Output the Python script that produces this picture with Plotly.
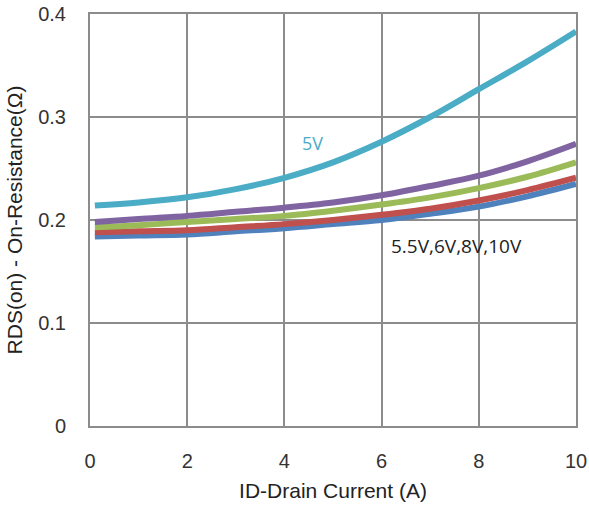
import plotly.graph_objects as go

current = [0.1, 1, 2, 3, 4, 5, 6, 7, 8, 9, 10]
v5 = [0.214, 0.217, 0.222, 0.230, 0.241, 0.256, 0.276, 0.300, 0.327, 0.354, 0.383]
v_purple = [0.198, 0.201, 0.204, 0.208, 0.212, 0.217, 0.224, 0.233, 0.243, 0.257, 0.274]
v_green = [0.193, 0.195, 0.198, 0.201, 0.204, 0.209, 0.215, 0.222, 0.231, 0.242, 0.256]
v_red = [0.188, 0.189, 0.190, 0.193, 0.196, 0.200, 0.205, 0.211, 0.219, 0.229, 0.241]
v_blue = [0.184, 0.185, 0.186, 0.189, 0.192, 0.196, 0.200, 0.206, 0.213, 0.223, 0.235]

series = [
    ("5V", v5, "#4BACC6"),
    ("V purple", v_purple, "#8064A2"),
    ("V green", v_green, "#9BBB59"),
    ("V red", v_red, "#C0504D"),
    ("V blue", v_blue, "#4F81BD"),
]

fig = go.Figure()
for name, ys, col in reversed(series):
    fig.add_trace(go.Scatter(x=current, y=ys, mode="lines", name=name,
                             line=dict(color=col, width=6, shape="spline"),
                             showlegend=False))

fig.add_annotation(x=4.58, y=0.275, text="5V", showarrow=False,
                   font=dict(family="Open Sans", size=18, color="#4BACC6"))
fig.add_annotation(x=7.55, y=0.175, text="5.5V,6V,8V,10V", showarrow=False,
                   font=dict(family="Open Sans", size=19, color="#222222"))

axis_common = dict(showgrid=True, gridcolor="#8C8C8C", gridwidth=2,
                   showline=True, linecolor="#8C8C8C", linewidth=2, mirror=True,
                   zeroline=False, ticks="", automargin=False,
                   tickfont=dict(family="Liberation Sans", size=20, color="#333333"),
                   title_font=dict(family="Liberation Sans", size=21, color="#222222"))

fig.update_xaxes(range=[0, 10], tickvals=[0, 2, 4, 6, 8, 10],
                 title_text="ID-Drain Current (A)", ticklabelstandoff=16,
                 title_standoff=12, **axis_common)
fig.update_yaxes(range=[0, 0.4], tickvals=[0, 0.1, 0.2, 0.3, 0.4],
                 ticktext=["0", "0.1", "0.2", "0.3", "0.4"],
                 title_text="RDS(on) - On-Resistance(Ω)", ticklabelstandoff=18,
                 title_standoff=10, **axis_common)

fig.update_layout(width=589, height=506, plot_bgcolor="white", paper_bgcolor="white",
                  margin=dict(l=90, r=13, t=14, b=80))

fig.write_html("out.html")
